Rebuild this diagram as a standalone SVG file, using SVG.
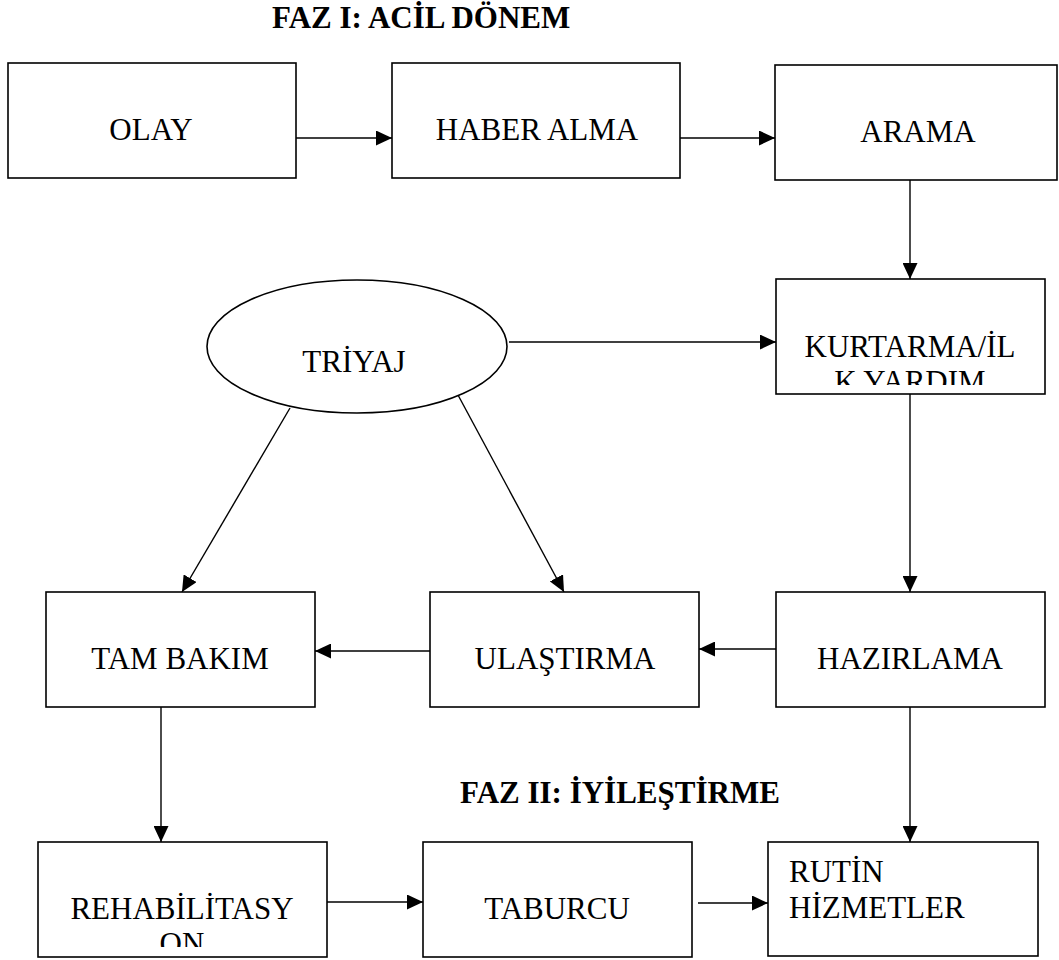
<svg xmlns="http://www.w3.org/2000/svg" width="1059" height="960" viewBox="0 0 1059 960">
<style>
.box{fill:#fff;stroke:#000;stroke-width:1.6}
.lbl{font-family:"Liberation Serif","Times New Roman",serif;font-size:31px;fill:#000}
.ttl{font-family:"Liberation Serif","Times New Roman",serif;font-size:31px;font-weight:bold;fill:#000}
.c{text-anchor:middle}
.ln{stroke:#000;stroke-width:1.4;fill:none}
.arr{marker-end:url(#ah)}
</style>
<defs>
<marker id="ah" markerUnits="userSpaceOnUse" markerWidth="16" markerHeight="15" refX="16" refY="7.5" orient="auto">
<path d="M0,0 L16,7.5 L0,15 z" fill="#000"/>
</marker>
<clipPath id="clipK"><rect x="776" y="279" width="269" height="106"/></clipPath>
<clipPath id="clipR"><rect x="38" y="842" width="289" height="105"/></clipPath>
</defs>
<rect width="1059" height="960" fill="#fff"/>

<g id="titles">
<text class="ttl" x="272" y="28">FAZ I: ACİL DÖNEM</text>
<text class="ttl" x="460" y="803">FAZ II: İYİLEŞTİRME</text>
</g>

<g id="connectors">
<line class="ln arr" x1="296" y1="138" x2="392" y2="138"/>
<line class="ln arr" x1="680" y1="138" x2="775" y2="138"/>
<line class="ln arr" x1="910" y1="180" x2="910" y2="279"/>
<line class="ln arr" x1="509" y1="342" x2="776" y2="342"/>
<line class="ln arr" x1="290" y1="408" x2="182" y2="592"/>
<line class="ln arr" x1="458" y1="395" x2="564" y2="592"/>
<line class="ln arr" x1="910" y1="394" x2="910" y2="592"/>
<line class="ln arr" x1="776" y1="649" x2="699" y2="649"/>
<line class="ln arr" x1="430" y1="651" x2="315" y2="651"/>
<line class="ln arr" x1="161" y1="704" x2="161" y2="842"/>
<line class="ln arr" x1="910" y1="707" x2="910" y2="842"/>
<line class="ln arr" x1="327" y1="902" x2="423" y2="902"/>
<line class="ln arr" x1="698" y1="903" x2="768" y2="903"/>
</g>

<g id="olay">
<rect class="box" x="8" y="63" width="288" height="115"/>
<text class="lbl c" x="151" y="140">OLAY</text>
</g>
<g id="haber-alma">
<rect class="box" x="392" y="63" width="288" height="115"/>
<text class="lbl c" x="537" y="140">HABER ALMA</text>
</g>
<g id="arama">
<rect class="box" x="775" y="65" width="282" height="115"/>
<text class="lbl c" x="918" y="142">ARAMA</text>
</g>
<g id="triyaj">
<ellipse cx="357" cy="346.5" rx="150" ry="66.5" fill="#fff" stroke="#000" stroke-width="1.6"/>
<text class="lbl c" x="354" y="372">TRİYAJ</text>
</g>
<g id="kurtarma">
<rect class="box" x="776" y="279" width="269" height="115"/>
<g clip-path="url(#clipK)">
<text class="lbl c" x="910" y="357">KURTARMA/İL</text>
<text class="lbl c" x="910" y="392">K YARDIM</text>
</g>
</g>
<g id="tam-bakim">
<rect class="box" x="46" y="592" width="269" height="115"/>
<text class="lbl c" x="180" y="669">TAM BAKIM</text>
</g>
<g id="ulastirma">
<rect class="box" x="430" y="592" width="269" height="115"/>
<text class="lbl c" x="565" y="669">ULAŞTIRMA</text>
</g>
<g id="hazirlama">
<rect class="box" x="776" y="592" width="269" height="115"/>
<text class="lbl c" x="910" y="669">HAZIRLAMA</text>
</g>
<g id="rehabilitasyon">
<rect class="box" x="38" y="842" width="289" height="115"/>
<g clip-path="url(#clipR)">
<text class="lbl c" x="182" y="919">REHABİLİTASY</text>
<text class="lbl c" x="182" y="954">ON</text>
</g>
</g>
<g id="taburcu">
<rect class="box" x="423" y="842" width="269" height="115"/>
<text class="lbl c" x="557" y="919">TABURCU</text>
</g>
<g id="rutin">
<rect class="box" x="768" y="842" width="270" height="114"/>
<text class="lbl" x="789" y="882">RUTİN</text>
<text class="lbl" x="789" y="918">HİZMETLER</text>
</g>
</svg>
